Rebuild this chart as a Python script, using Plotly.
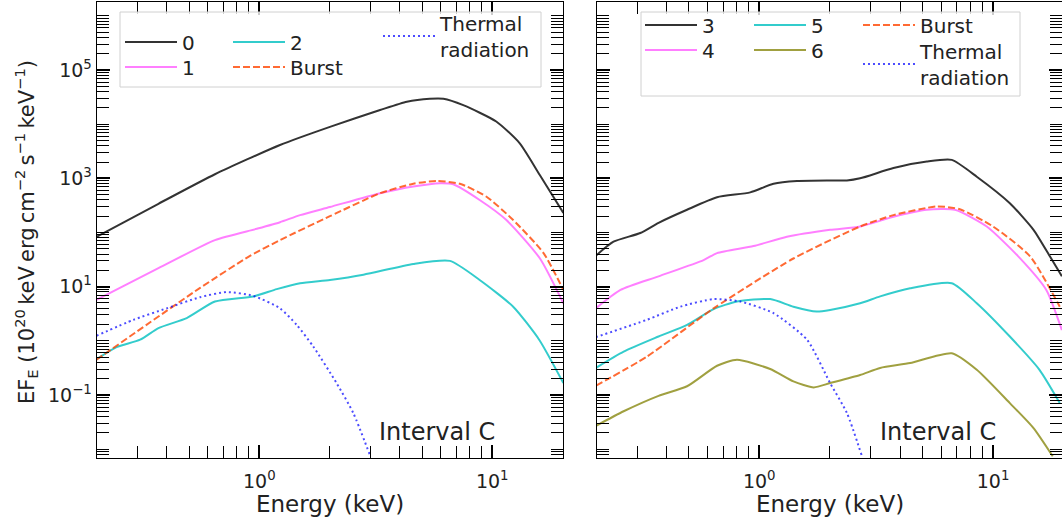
import plotly.graph_objects as go

# ---------------- data (Interval C) ----------------
# Left panel
E_c0 = [0.2, 0.369, 0.645, 1.227, 2.01, 3.30, 4.30, 5.40, 6.17, 7.51, 10.4, 13.1, 16.0, 20.2]
F_c0 = [83, 339, 1190, 4120, 8900, 18200, 26000, 29500, 29500, 22400, 11200, 4470, 1150, 229]

E_c1 = [0.2, 0.369, 0.645, 0.975, 1.227, 1.496, 2.01, 3.30, 4.58, 5.97, 6.80, 8.83, 11.5, 16.0, 20.2]
F_c1 = [5.7, 21.9, 72.4, 117, 155, 209, 295, 531, 708, 813, 776, 398, 170, 33.4, 4.9]

E_c2 = [0.2, 0.244, 0.308, 0.369, 0.488, 0.645, 0.942, 1.188, 1.496, 2.01, 2.80, 4.58, 6.58, 8.83, 12.3, 15.9, 20.2]
F_c2 = [0.457, 0.767, 1.05, 1.72, 2.63, 5.31, 6.61, 9.0, 11.6, 13.3, 16.6, 26.3, 29.9, 13.3, 4.27, 1.05, 0.166]

E_burstL = [0.2, 0.340, 0.557, 0.912, 1.227, 2.01, 3.30, 4.58, 5.77, 7.26, 9.45, 12.3, 16.6, 20.2]
F_burstL = [0.447, 2.2, 9.5, 37, 72.4, 200, 531, 794, 891, 794, 457, 170, 41.7, 8.7]

E_thermL = [0.2, 0.288, 0.400, 0.557, 0.725, 0.942, 1.227, 1.447, 1.705, 2.146, 2.53, 2.98]
F_thermL = [1.24, 2.44, 3.98, 6.4, 7.94, 6.76, 3.98, 1.97, 0.785, 0.166, 0.0468, 0.0079]

# Right panel
E_c3 = [0.2, 0.238, 0.310, 0.371, 0.491, 0.660, 0.915, 1.151, 1.45, 2.01, 2.37, 2.70, 3.75, 5.21, 6.66, 8.52, 11.8, 14.9, 17.5, 19.7]
F_c3 = [37.2, 67.6, 97.7, 151, 263, 447, 550, 794, 891, 912, 912, 1000, 1549, 2042, 2188, 1072, 347, 112, 36.3, 15.5]

E_c4 = [0.2, 0.255, 0.371, 0.578, 0.660, 0.945, 1.313, 2.01, 2.70, 3.75, 5.21, 6.87, 9.40, 13.0, 16.9, 19.7]
F_c4 = [3.98, 8.7, 15.5, 30.9, 41.7, 56.2, 83.2, 112, 129, 195, 263, 263, 129, 34, 8.7, 1.58]

E_c5 = [0.2, 0.263, 0.371, 0.491, 0.638, 0.803, 1.114, 1.40, 1.76, 2.01, 2.70, 3.29, 4.42, 6.66, 8.52, 11.8, 15.8, 19.3]
F_c5 = [0.316, 0.631, 1.20, 1.97, 3.85, 5.31, 5.89, 4.27, 3.47, 3.72, 4.95, 6.61, 9.33, 11.6, 4.95, 1.20, 0.292, 0.0708]

E_c6 = [0.2, 0.263, 0.371, 0.491, 0.660, 0.803, 1.114, 1.40, 1.71, 2.01, 2.70, 3.29, 4.42, 6.66, 8.52, 11.8, 14.9, 18.0]
F_c6 = [0.0269, 0.0501, 0.0966, 0.145, 0.347, 0.447, 0.302, 0.178, 0.138, 0.166, 0.234, 0.316, 0.389, 0.589, 0.292, 0.0708, 0.0245, 0.0074]

E_burstR = [0.2, 0.331, 0.638, 1.40, 2.70, 3.75, 5.74, 7.21, 10.0, 14.4, 19.3]
F_burstR = [0.148, 0.513, 3.98, 33.1, 129, 209, 302, 269, 129, 36.3, 4.27]

E_thermR = [0.2, 0.331, 0.460, 0.638, 0.830, 1.151, 1.60, 2.01, 2.37, 2.75]
F_thermR = [1.17, 2.45, 4.27, 5.89, 5.31, 3.24, 1.05, 0.166, 0.0468, 0.0074]

# ticks
x_major = [1, 10]
x_major_text = ["10<sup>0</sup>", "10<sup>1</sup>"]
x_minor = [0.2, 0.3, 0.4, 0.5, 0.6, 0.7, 0.8, 0.9, 2, 3, 4, 5, 6, 7, 8, 9, 20]
y_major = [0.1, 10, 1000, 100000]
y_major_text = ["10<sup>\u22121</sup>", "10<sup>1</sup>", "10<sup>3</sup>", "10<sup>5</sup>"]
y_minor = [k * 10.0 ** d for d in range(-3, 7) for k in range(1, 10)
           if not (k == 1 and d in (-1, 1, 3, 5))]

# ---------------- styles ----------------
FONT = "DejaVu Sans"
TXT = "#222"
C_BLACK = "rgba(0,0,0,0.8)"
C_MAG = "rgba(255,0,255,0.5)"
C_CYAN = "rgba(0,191,191,0.8)"
C_OLIVE = "rgba(128,128,0,0.75)"
C_BURST = "rgba(255,69,0,0.8)"
C_THERM = "rgba(0,0,255,0.7)"
LW = 2
DASH = "7px,3px"
DOT = "2px,3px"

W, H = 1062, 520


def px(x):
    return x / W


def py(y):
    return 1 - y / H


fig = go.Figure()
legends = {}

# (E, F, name, colour, dash, xaxis, yaxis, legend x px, legend y-centre px)
series = [
    (E_c0, F_c0, "0", C_BLACK, "solid", "x", "y", 120, 42),
    (E_c1, F_c1, "1", C_MAG, "solid", "x", "y", 120, 67),
    (E_c2, F_c2, "2", C_CYAN, "solid", "x", "y", 228, 42),
    (E_burstL, F_burstL, "Burst", C_BURST, DASH, "x", "y", 228, 67),
    (E_thermL, F_thermL, "Thermal<br>radiation", C_THERM, DOT, "x", "y", 378, 36),
    (E_c3, F_c3, "3", C_BLACK, "solid", "x2", "y2", 640, 25),
    (E_c4, F_c4, "4", C_MAG, "solid", "x2", "y2", 640, 50),
    (E_c5, F_c5, "5", C_CYAN, "solid", "x2", "y2", 749, 25),
    (E_c6, F_c6, "6", C_OLIVE, "solid", "x2", "y2", 749, 50),
    (E_burstR, F_burstR, "Burst", C_BURST, DASH, "x2", "y2", 858, 25),
    (E_thermR, F_thermR, "Thermal<br>radiation", C_THERM, DOT, "x2", "y2", 858, 64),
]

leg_common = dict(bgcolor="rgba(0,0,0,0)", borderwidth=0, xanchor="left", yanchor="middle",
                  font=dict(family=FONT, size=20, color=TXT), orientation="v",
                  itemwidth=52, tracegroupgap=0, valign="middle")

for i, (E, F, name, color, dash, xa_, ya_, lx, ly) in enumerate(series):
    lid = "legend" if i == 0 else f"legend{i + 1}"
    fig.add_trace(go.Scatter(
        x=E, y=F, mode="lines", name=name, showlegend=True,
        line=dict(color=color, width=LW, dash=dash, shape="spline", smoothing=0.6),
        xaxis=xa_, yaxis=ya_, legend=lid))
    legends[lid] = dict(leg_common, x=px(lx), y=py(ly))

axis_common = dict(
    type="log", showline=True, linecolor="black", linewidth=1.2, mirror="allticks",
    ticks="inside", ticklen=13, tickwidth=2.2, tickcolor="black",
    showgrid=False, zeroline=False,
    tickfont=dict(family=FONT, size=19, color=TXT),
    minor=dict(ticks="inside", ticklen=12, tickwidth=1, tickcolor="black", showgrid=False),
)

xa = dict(axis_common)
xa.update(domain=[px(96.7), px(563.3)], range=[-0.698, 1.305],
          tickvals=x_major, ticktext=x_major_text, anchor="y", ticklabelstandoff=6)
xa["minor"] = dict(axis_common["minor"], tickvals=x_minor)
xb = dict(xa)
xb.update(domain=[px(597), 1.0], range=[-0.694, 1.295], anchor="y2")

ya = dict(axis_common)
ya.update(domain=[py(458), py(2)], range=[-2.163, 6.255],
          tickvals=y_major, ticktext=y_major_text, anchor="x")
ya["minor"] = dict(axis_common["minor"], tickvals=y_minor)
yb = dict(ya)
yb.update(anchor="x2", showticklabels=False, matches="y")


def ann(text, x, y, size, angle=0):
    return dict(text=text, x=px(x), y=py(y), xref="paper", yref="paper", showarrow=False,
                xanchor="center", yanchor="middle", textangle=angle,
                font=dict(family=FONT, size=size, color=TXT))


fig.update_layout(
    width=W, height=H, margin=dict(l=0, r=0, t=0, b=0),
    paper_bgcolor="white", plot_bgcolor="white", showlegend=True,
    xaxis=xa, xaxis2=xb, yaxis=ya, yaxis2=yb,
    shapes=[
        dict(type="rect", xref="paper", yref="paper", x0=px(120), x1=px(541), y0=py(87), y1=py(12),
             line=dict(color="#d0d0d0", width=1), fillcolor="rgba(255,255,255,0.8)", layer="above"),
        dict(type="rect", xref="paper", yref="paper", x0=px(641), x1=px(1020), y0=py(96), y1=py(12),
             line=dict(color="#d0d0d0", width=1), fillcolor="rgba(255,255,255,0.8)", layer="above"),
    ],
    annotations=[
        ann("Interval C", 437, 432, 24),
        ann("Interval C", 938, 432, 24),
        ann("Energy (keV)", 330, 504, 23),
        ann("Energy (keV)", 830, 504, 23),
        ann("EF<sub>E</sub> (10<sup>20</sup>\u2009keV\u2009erg\u2009cm<sup>\u22122</sup>\u2009"
            "s<sup>\u22121</sup>\u2009keV<sup>\u22121</sup>)", 26, 232, 21, -90),
    ],
    **legends,
)

fig.write_html("out.html")
